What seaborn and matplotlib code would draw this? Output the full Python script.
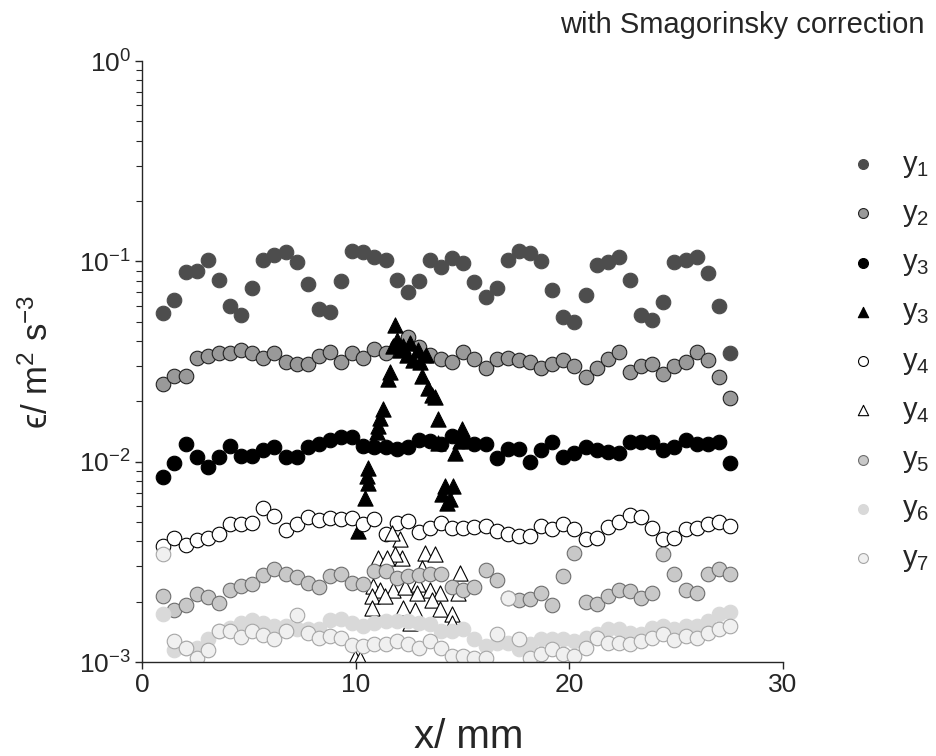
import matplotlib
matplotlib.use("Agg")
import matplotlib.pyplot as plt
import seaborn as sns
import numpy as np

sns.set_style("ticks")
plt.rcParams['font.family'] = ['Liberation Sans', 'DejaVu Sans']
plt.rcParams['mathtext.fontset'] = 'custom'
plt.rcParams['mathtext.rm'] = 'Liberation Sans'
plt.rcParams['mathtext.it'] = 'Liberation Sans:italic'
plt.rcParams['mathtext.bf'] = 'Liberation Sans:bold'

# x positions of the circle series (mm)
x_mm = [1.00, 1.52, 2.04, 2.56, 3.08, 3.60, 4.12, 4.64, 5.16, 5.68, 6.20, 6.72, 7.24,
        7.76, 8.28, 8.80, 9.32, 9.84, 10.36, 10.88, 11.40, 11.92, 12.44, 12.96, 13.48,
        14.00, 14.52, 15.04, 15.56, 16.08, 16.60, 17.12, 17.64, 18.16, 18.68, 19.20,
        19.72, 20.24, 20.76, 21.28, 21.80, 22.32, 22.84, 23.36, 23.88, 24.40, 24.92,
        25.44, 25.96, 26.48, 27.00, 27.52]

y1 = [0.055, 0.064, 0.088, 0.090, 0.101, 0.081, 0.060, 0.054, 0.074, 0.102, 0.107, 0.111,
      0.099, 0.077, 0.058, 0.056, 0.080, 0.112, 0.111, 0.105, 0.101, 0.081, 0.070, 0.080,
      0.102, 0.094, 0.104, 0.098, 0.079, 0.066, 0.074, 0.102, 0.112, 0.110, 0.100, 0.072,
      0.053, 0.050, 0.068, 0.096, 0.099, 0.105, 0.081, 0.054, 0.051, 0.063, 0.099, 0.101,
      0.105, 0.087, 0.060, 0.0347]

y2 = [0.0245, 0.0269, 0.0269, 0.0331, 0.0335, 0.0347, 0.0347, 0.0359, 0.0347, 0.0331,
      0.0347, 0.0316, 0.0309, 0.0309, 0.0335, 0.0351, 0.0313, 0.0347, 0.0331, 0.0367,
      0.0347, 0.0380, 0.0417, 0.0372, 0.0339, 0.0324, 0.0313, 0.0351, 0.0324, 0.0295,
      0.0327, 0.0331, 0.0320, 0.0313, 0.0295, 0.0309, 0.0320, 0.0299, 0.0266, 0.0292,
      0.0327, 0.0351, 0.0279, 0.0302, 0.0309, 0.0275, 0.0302, 0.0316, 0.0351, 0.0320,
      0.0266, 0.0207]

y3 = [0.0084, 0.0098, 0.0123, 0.0105, 0.0094, 0.0105, 0.0120, 0.0107, 0.0107, 0.0114,
      0.0118, 0.0105, 0.0105, 0.0118, 0.0123, 0.0129, 0.0133, 0.0133, 0.0120, 0.0118,
      0.0118, 0.0116, 0.0118, 0.0129, 0.0127, 0.0123, 0.0135, 0.0127, 0.0123, 0.0122,
      0.0104, 0.0116, 0.0116, 0.0100, 0.0115, 0.0125, 0.0105, 0.0110, 0.0118, 0.0114,
      0.0112, 0.0110, 0.0126, 0.0126, 0.0125, 0.0114, 0.0119, 0.0129, 0.0123, 0.0123,
      0.0126, 0.0098]

y4 = [0.00380, 0.00417, 0.00385, 0.00407, 0.00417, 0.00437, 0.00490, 0.00490, 0.00495,
      0.00589, 0.00537, 0.00457, 0.00490, 0.00531, 0.00513, 0.00525, 0.00519, 0.00525,
      0.00490, 0.00519, 0.00437, 0.00495, 0.00507, 0.00447, 0.00468, 0.00495, 0.00468,
      0.00468, 0.00473, 0.00479, 0.00452, 0.00437, 0.00427, 0.00427, 0.00479, 0.00462,
      0.00490, 0.00462, 0.00412, 0.00417, 0.00473, 0.00501, 0.00543, 0.00531, 0.00468,
      0.00412, 0.00417, 0.00462, 0.00468, 0.00490, 0.00501, 0.00479]

y5 = [0.00214, 0.00182, 0.00193, 0.00219, 0.00211, 0.00197, 0.00229, 0.00240, 0.00245,
      0.00272, 0.00292, 0.00275, 0.00266, 0.00248, 0.00237, 0.00269, 0.00275, 0.00248,
      0.00245, 0.00285, 0.00285, 0.00263, 0.00269, 0.00272, 0.00275, 0.00275, 0.00237,
      0.00229, 0.00237, 0.00288, 0.00257, 0.00209, 0.00204, 0.00207, 0.00221, 0.00193,
      0.00269, 0.00351, 0.00200, 0.00195, 0.00214, 0.00229, 0.00226, 0.00209, 0.00221,
      0.00347, 0.00275, 0.00229, 0.00221, 0.00275, 0.00292, 0.00275]

y6 = [0.00174, 0.00115, 0.00117, 0.00117, 0.00130, 0.00143, 0.00148, 0.00157, 0.00162,
      0.00157, 0.00151, 0.00151, 0.00146, 0.00146, 0.00146, 0.00162, 0.00164, 0.00157,
      0.00151, 0.00157, 0.00160, 0.00160, 0.00160, 0.00157, 0.00155, 0.00143, 0.00143,
      0.00146, 0.00130, 0.00120, 0.00124, 0.00124, 0.00116, 0.00123, 0.00130, 0.00130,
      0.00130, 0.00127, 0.00132, 0.00138, 0.00146, 0.00146, 0.00140, 0.00138, 0.00148,
      0.00151, 0.00146, 0.00151, 0.00151, 0.00160, 0.00174, 0.00178]

y7 = [0.00347, 0.00127, 0.00117, 0.00105, 0.00115, 0.00143, 0.00143, 0.00133, 0.00143,
      0.00136, 0.00130, 0.00143, 0.00172, 0.00140, 0.00132, 0.00135, 0.00132, 0.00122,
      0.00120, 0.00123, 0.00123, 0.00127, 0.00123, 0.00117, 0.00127, 0.00117, 0.00107,
      0.00107, 0.00105, 0.00105, 0.00138, 0.00209, 0.00130, 0.00105, 0.00110, 0.00116,
      0.00110, 0.00107, 0.00117, 0.00132, 0.00124, 0.00124, 0.00123, 0.00127, 0.00132,
      0.00138, 0.00129, 0.00135, 0.00132, 0.00140, 0.00146, 0.00151]

# triangle series (own x positions)
tri3_x = [10.12, 10.44, 10.54, 10.59, 10.59, 10.82, 11.00, 11.05, 11.15, 11.29, 11.52,
          11.60, 11.85, 11.76, 11.94, 12.08, 12.20, 12.40, 12.55, 12.70, 12.93, 13.00,
          13.10, 13.30, 13.40, 13.58, 13.72, 13.86, 13.86, 14.05, 14.20, 14.29, 14.43,
          14.57, 14.66, 14.99, 14.90]
tri3_y = [0.00452, 0.0066, 0.0085, 0.0093, 0.00785, 0.0123, 0.0140, 0.0151, 0.0166, 0.0184,
          0.0260, 0.0280, 0.0479, 0.0380, 0.0405, 0.0359, 0.0380, 0.0339, 0.0390, 0.0320,
          0.0359, 0.0313, 0.0269, 0.0340, 0.0232, 0.0214, 0.0210, 0.0164, 0.01245, 0.0069,
          0.0076, 0.0062, 0.0065, 0.0076, 0.0111, 0.0146, 0.0127]

tri4_x = [12.08, 11.71, 12.18, 11.85, 11.05, 11.48, 13.26, 13.72, 13.11, 14.90, 10.82,
          11.15, 11.76, 12.32, 12.93, 13.49, 13.96, 14.80, 10.77, 11.38, 12.88, 13.58,
          10.77, 12.22, 12.79, 13.96, 14.52, 12.55, 14.52, 9.98, 10.21]
tri4_y = [0.00412, 0.00440, 0.00331, 0.00347, 0.00330, 0.00330, 0.00351, 0.00347, 0.00295,
          0.00279, 0.00240, 0.00229, 0.00229, 0.00236, 0.00245, 0.00229, 0.00221, 0.00221,
          0.00214, 0.00214, 0.00221, 0.00204, 0.00186, 0.00186, 0.00182, 0.00184, 0.00174,
          0.00157, 0.00157, 0.00105, 0.00104]

labels = [r'$\mathregular{y_1}$', r'$\mathregular{y_2}$', r'$\mathregular{y_3}$',
          r'$\mathregular{y_3}$', r'$\mathregular{y_4}$', r'$\mathregular{y_4}$',
          r'$\mathregular{y_5}$', r'$\mathregular{y_6}$', r'$\mathregular{y_7}$']

series = [
    (x_mm, y1, 'o', '#4d4d4d', '#4d4d4d'),
    (x_mm, y2, 'o', '#999999', '#222222'),
    (x_mm, y3, 'o', '#000000', '#000000'),
    (tri3_x, tri3_y, '^', '#000000', '#000000'),
    (x_mm, y4, 'o', '#ffffff', '#000000'),
    (tri4_x, tri4_y, '^', '#ffffff', '#000000'),
    (x_mm, y5, 'o', '#c8c8c8', '#6e6e6e'),
    (x_mm, y6, 'o', '#d9d9d9', '#d9d9d9'),
    (x_mm, y7, 'o', '#f0f0f0', '#a6a6a6'),
]

fig = plt.figure(figsize=(9.36, 7.56), dpi=100)
ax = fig.add_axes([142/936, 1-662/756, 641/936, 601/756])

for (xs, ys, m, fc, ec), lab in zip(series, labels):
    sns.scatterplot(x=xs, y=ys, ax=ax, marker=m, s=110 if m == 'o' else 120,
                    color=fc, edgecolor=ec, linewidth=0.8, label=lab, legend=False)

if ax.get_legend() is not None:
    ax.get_legend().remove()

ax.set_yscale('log')
ax.set_xlim(0, 30)
ax.set_ylim(1e-3, 1)
ax.set_xticks([0, 10, 20, 30])
sns.despine(ax=ax)
for sp in ['left', 'bottom']:
    ax.spines[sp].set_color('#262626')
    ax.spines[sp].set_linewidth(1.0)
ax.tick_params(axis='both', which='major', labelsize=19, colors='#262626',
               direction='out', length=5, width=1, pad=3)
ax.tick_params(axis='y', which='minor', direction='out', length=4, width=0.8,
               colors='#262626')

ax.set_xlabel('x/ mm', fontsize=29, color='#262626')
ax.set_ylabel('ϵ/ m$^2$ s$^{-3}$', fontsize=25, color='#262626')
ax.xaxis.set_label_coords(0.509, -0.093)
ax.yaxis.set_label_coords(-0.136, 0.5)

fig.text(0.988, 0.967, 'with Smagorinsky correction', ha='right', va='center',
         fontsize=21, color='#262626')

handles, labs = ax.get_legend_handles_labels()
fig.legend(handles, labs, loc='upper left', bbox_to_anchor=(0.906, 0.802),
           frameon=False, fontsize=21, markerscale=0.68, handlelength=1.0,
           handletextpad=0.85, labelspacing=0.66, borderpad=0, borderaxespad=0)

fig.savefig('out.png', dpi=100, facecolor='white')
